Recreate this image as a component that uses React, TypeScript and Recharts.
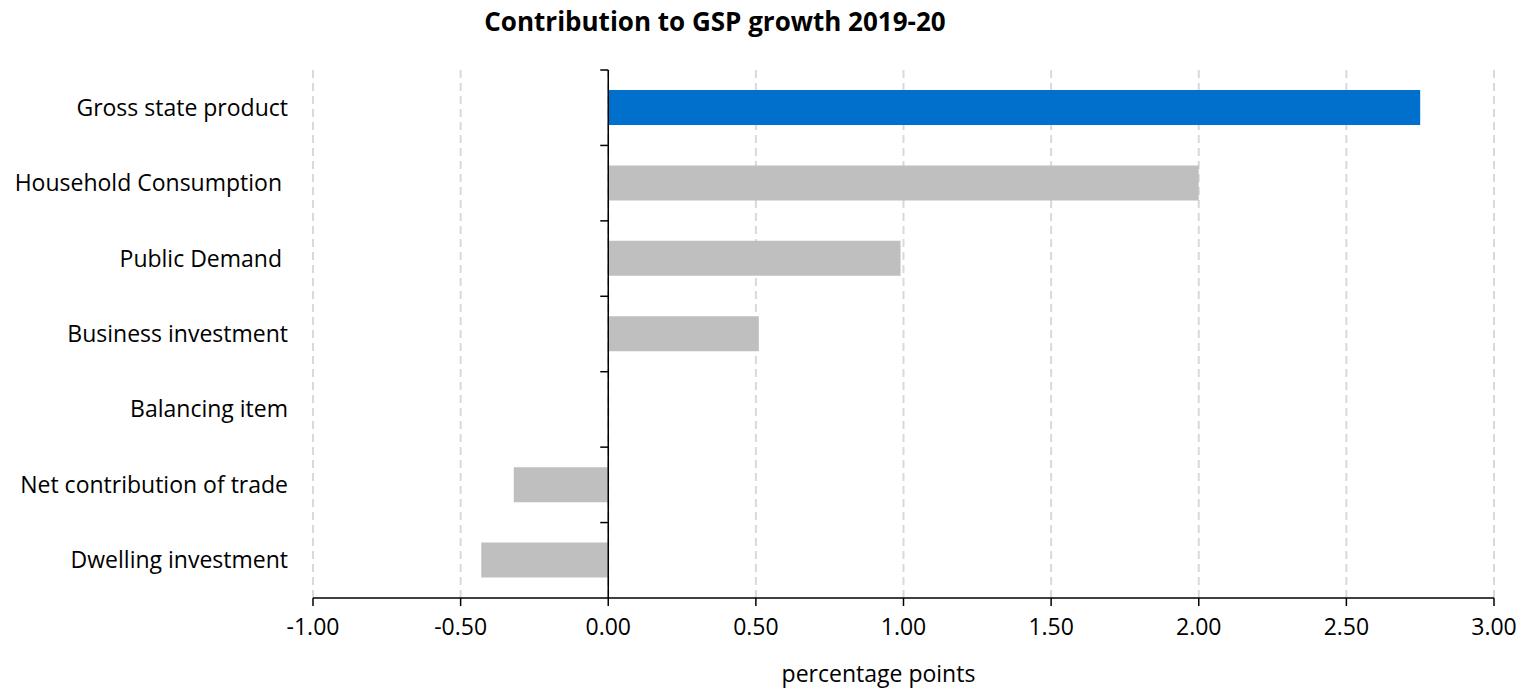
import { BarChart, Bar, XAxis, YAxis, CartesianGrid, ReferenceLine, Cell } from "recharts";

const categories = [
  "Gross state product",
  "Household Consumption ",
  "Public Demand ",
  "Business investment",
  "Balancing item",
  "Net contribution of trade",
  "Dwelling investment",
];
const contributions = [2.75, 2.0, 0.99, 0.51, 0.0, -0.32, -0.43];
const xTicks = [-1, -0.5, 0, 0.5, 1, 1.5, 2, 2.5, 3];

const FONT = "'Open Sans', 'Liberation Sans', sans-serif";
const FS = 23;
const W = 1528;
const H = 688;
const MARGIN = { top: 70, right: 34, bottom: 0, left: 8 };
const Y_W = 305;
const X_H = 90;
const PLOT_W = W - MARGIN.left - MARGIN.right - Y_W;
const PLOT_H = H - MARGIN.top - MARGIN.bottom - X_H;
const ZERO_X = MARGIN.left + Y_W + (PLOT_W * (0 - xTicks[0])) / (xTicks[xTicks.length - 1] - xTicks[0]);
const BAND = PLOT_H / categories.length;

const data = categories.map((name, i) => ({ name, value: contributions[i] }));

function CategoryTick(props: any) {
  const { x, y, payload } = props;
  return (
    <g>
      <text x={x} y={y} dy="0.35em" textAnchor="end" fontSize={FS} fill="#000" fontFamily={FONT} style={{ whiteSpace: "pre" }}>
        {payload.value}
      </text>
      <line x1={ZERO_X - 8} x2={ZERO_X} y1={y - BAND / 2} y2={y - BAND / 2} stroke="#000" strokeWidth={1.5} />
    </g>
  );
}

export default function App() {
  return (
    <div style={{ position: "absolute", left: 0, top: 0, width: W, height: H, background: "#fff", fontFamily: FONT }}>
      <div
        style={{
          position: "absolute",
          top: 3,
          left: 0,
          width: 1430,
          textAlign: "center",
          fontSize: 26,
          fontWeight: 700,
          color: "#000",
        }}
      >
        Contribution to GSP growth 2019-20
      </div>
      <BarChart width={W} height={H} data={data} layout="vertical" margin={MARGIN}>
        <CartesianGrid horizontal={false} stroke="#d9d9d9" strokeWidth={2} strokeDasharray="8 5" />
        <XAxis
          type="number"
          domain={[-1, 3]}
          ticks={xTicks}
          tickFormatter={(v: number) => v.toFixed(2)}
          height={X_H}
          stroke="#000"
          strokeWidth={1.5}
          tickSize={8}
          tickMargin={13}
          tick={{ fontSize: FS, fill: "#000", fontFamily: FONT }}
          label={{ value: "percentage points", position: "insideBottom", offset: 6, dx: -25, fontSize: FS, fill: "#000", fontFamily: FONT }}
        />
        <YAxis
          type="category"
          dataKey="name"
          width={Y_W}
          axisLine={false}
          tickLine={false}
          tickSize={0}
          tickMargin={25}
          tick={<CategoryTick />}
          interval={0}
        />
        <ReferenceLine x={0} stroke="#000" strokeWidth={1.5} />
        <Bar dataKey="value" barSize={35} isAnimationActive={false}>
          {data.map((d, i) => (
            <Cell key={d.name} fill={i === 0 ? "#0070cc" : "#bfbfbf"} />
          ))}
        </Bar>
      </BarChart>
    </div>
  );
}
